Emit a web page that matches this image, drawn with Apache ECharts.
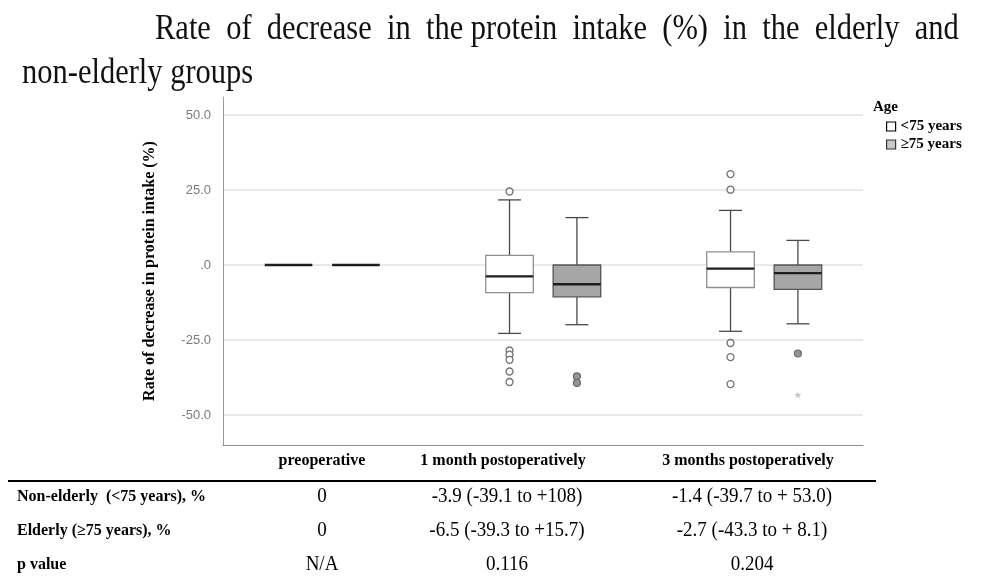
<!DOCTYPE html>
<html>
<head>
<meta charset="utf-8">
<script src="https://cdn.jsdelivr.net/npm/echarts@6/dist/echarts.min.js"></script>
<style>
    html, body { margin: 0; padding: 0; background: #fff; }
    #main { width: 982px; height: 578px; }
</style>
</head>
<body>
<div id="main"></div>
<script>
    // 时间点
    var timePoints = ['preoperative', '1 month postoperatively', '3 months postoperatively'];
    // 箱线: [下须, Q1, 中位数, Q3, 上须]
    var youngBoxes = [[0, 0, 0, 0, 0], [-22.8, -9.2, -3.8, 3.2, 21.7], [-22.1, -7.5, -1.2, 4.4, 18.2]];
    var elderBoxes = [[0, 0, 0, 0, 0], [-19.9, -10.6, -6.4, 0, 15.8], [-19.6, -8.1, -2.7, 0, 8.2]];
    // 离群点: [时间点序号, 值]
    var youngOutliers = [[1, 24.5], [1, -28.5], [1, -29.9], [1, -31.6], [1, -35.5], [1, -39.0],
        [2, 30.3], [2, 25.1], [2, -26.0], [2, -30.7], [2, -39.7]];
    var elderOutliers = [[1, -37.1], [1, -39.3], [2, -29.5]];
    var elderExtremes = [[2, -43.3]];
    var yTicks = [-50, -25, 0, 25, 50];

    // 下方表格
    var rowLabels = ['Non-elderly  (<75 years), %', 'Elderly (\u226575 years), %', 'p value'];
    var rowValues = [
        ['0', '-3.9 (-39.1 to +108)', '-1.4 (-39.7 to + 53.0)'],
        ['0', '-6.5 (-39.3 to +15.7)', '-2.7 (-43.3 to + 8.1)'],
        ['N/A', '0.116', '0.204']
    ];

    var SERIF = "'Liberation Serif', 'DejaVu Serif', serif";
    var SP = '\u2002';
    var BOX_W = 47.6, CAP_W = 23, OFFSET = 33.7;

    function boxRenderer(offset, fill, border) {
        return function (params, api) {
            var i = api.value(0);
            var lo = api.coord([i, api.value(1)]);
            var q1 = api.coord([i, api.value(2)]);
            var md = api.coord([i, api.value(3)]);
            var q3 = api.coord([i, api.value(4)]);
            var hi = api.coord([i, api.value(5)]);
            var cx = lo[0] + offset;
            var hw = BOX_W / 2, cw = CAP_W / 2;
            var kids = [];
            var wStyle = {stroke: '#4a4a4a', lineWidth: 1.3};
            if (hi[1] < q3[1] - 0.5) {
                kids.push({type: 'line', shape: {x1: cx, y1: q3[1], x2: cx, y2: hi[1]}, style: wStyle});
                kids.push({type: 'line', shape: {x1: cx - cw, y1: hi[1], x2: cx + cw, y2: hi[1]}, style: wStyle});
                kids.push({type: 'line', shape: {x1: cx, y1: q1[1], x2: cx, y2: lo[1]}, style: wStyle});
                kids.push({type: 'line', shape: {x1: cx - cw, y1: lo[1], x2: cx + cw, y2: lo[1]}, style: wStyle});
                kids.push({
                    type: 'rect',
                    shape: {x: cx - hw, y: q3[1], width: BOX_W, height: q1[1] - q3[1]},
                    style: {fill: fill, stroke: border, lineWidth: 1.3}
                });
            }
            kids.push({
                type: 'line',
                shape: {x1: cx - hw, y1: md[1], x2: cx + hw, y2: md[1]},
                style: {stroke: '#1e1e1e', lineWidth: 2.4}
            });
            return {type: 'group', children: kids};
        };
    }

    function toRows(boxes) {
        return boxes.map(function (b, i) { return [i].concat(b); });
    }

    var graphics = [
        {type: 'text', x: 155, y: 29, scaleY: 1.2, style: {
            text: ['Rate', 'of', 'decrease', 'in', 'the protein', 'intake', '(%)', 'in', 'the', 'elderly', 'and'].join(SP),
            font: '30.5px ' + SERIF, fill: '#111', verticalAlign: 'middle'}},
        {type: 'text', x: 22, y: 73, scaleY: 1.2, style: {text: 'non-elderly groups', font: '30.5px ' + SERIF, fill: '#111', verticalAlign: 'middle'}},
        {type: 'text', x: 873, y: 107, style: {text: 'Age', font: 'bold 15px ' + SERIF, fill: '#000', verticalAlign: 'middle'}},
        {type: 'line', shape: {x1: 8, y1: 481, x2: 876, y2: 481}, style: {stroke: '#000', lineWidth: 2}}
    ];
    var headCenters = [322, 503, 748];
    var colCenters = [322, 507, 752];
    var rowYs = [497, 531, 565];
    timePoints.forEach(function (t, i) {
        graphics.push({type: 'text', x: headCenters[i], y: 461,
            style: {text: t, font: 'bold 16px ' + SERIF, fill: '#000', align: 'center', verticalAlign: 'middle'}});
    });
    rowLabels.forEach(function (lab, r) {
        graphics.push({type: 'text', x: 17, y: rowYs[r],
            style: {text: lab, font: 'bold 16px ' + SERIF, fill: '#000', verticalAlign: 'middle'}});
        rowValues[r].forEach(function (v, c) {
            graphics.push({type: 'text', x: colCenters[c], y: rowYs[r], scaleY: 1.1,
                style: {text: v, font: '19px ' + SERIF, fill: '#000', align: 'center', verticalAlign: 'middle'}});
        });
    });

    var myChart = echarts.init(document.getElementById('main'));
    myChart.setOption({
        animation: false,
        grid: {left: 223, right: 119, top: 97, bottom: 133},
        legend: {
            orient: 'vertical',
            left: 881,
            top: 114,
            itemWidth: 9,
            itemHeight: 9,
            itemGap: 3,
            textStyle: {fontFamily: SERIF, fontWeight: 'bold', fontSize: 15, color: '#000'},
            data: [
                {name: '<75 years', icon: 'rect', itemStyle: {color: '#fff', borderColor: '#000', borderWidth: 1.2}},
                {name: '\u226575 years', icon: 'rect', itemStyle: {color: '#c8c8c8', borderColor: '#333', borderWidth: 1.2}}
            ]
        },
        xAxis: {
            type: 'value',
            min: -0.449,
            max: 2.447,
            axisLine: {show: true, onZero: false, lineStyle: {color: '#8c8c8c', width: 1}},
            axisTick: {show: false},
            axisLabel: {show: false},
            splitLine: {show: false}
        },
        yAxis: {
            type: 'value',
            min: -60,
            max: 56,
            name: 'Rate of decrease in protein intake (%)',
            nameLocation: 'middle',
            nameRotate: 90,
            nameGap: 65,
            nameTextStyle: {fontFamily: SERIF, fontWeight: 'bold', fontSize: 16, color: '#000'},
            axisLine: {show: true, onZero: false, lineStyle: {color: '#9a9a9a', width: 1}},
            axisTick: {show: false, customValues: yTicks},
            axisLabel: {
                customValues: yTicks,
                margin: 12,
                color: '#7a7a7a',
                fontFamily: "'Liberation Sans', Arial, sans-serif",
                fontSize: 13,
                formatter: function (v) { return v === 0 ? '.0' : v.toFixed(1); }
            },
            splitLine: {show: true, lineStyle: {color: '#e2e2e2', width: 1.5}}
        },
        graphic: graphics,
        series: [
            {
                name: '<75 years',
                type: 'custom',
                renderItem: boxRenderer(-OFFSET, '#ffffff', '#8f8f8f'),
                itemStyle: {color: '#fff'},
                data: toRows(youngBoxes),
                z: 3
            },
            {
                name: '\u226575 years',
                type: 'custom',
                renderItem: boxRenderer(OFFSET, '#a6a6a6', '#555555'),
                itemStyle: {color: '#c8c8c8'},
                data: toRows(elderBoxes),
                z: 3
            },
            {
                name: 'young outliers',
                type: 'scatter',
                symbol: 'circle',
                symbolSize: 7,
                symbolOffset: [-OFFSET, 0],
                itemStyle: {color: '#ffffff', borderColor: '#737373', borderWidth: 1.3, opacity: 1},
                data: youngOutliers,
                z: 4
            },
            {
                name: 'elder outliers',
                type: 'scatter',
                symbol: 'circle',
                symbolSize: 7,
                symbolOffset: [OFFSET, 0],
                itemStyle: {color: '#959595', borderColor: '#6a6a6a', borderWidth: 1.2, opacity: 1},
                data: elderOutliers,
                z: 4
            },
            {
                name: 'elder extremes',
                type: 'scatter',
                symbol: 'path://M0,-10 L2.35,-3.24 L9.51,-3.09 L3.8,1.24 L5.88,8.09 L0,4 L-5.88,8.09 L-3.8,1.24 L-9.51,-3.09 L-2.35,-3.24 Z',
                symbolSize: 7,
                symbolOffset: [OFFSET, 0],
                itemStyle: {color: '#c4c4c4', opacity: 1},
                data: elderExtremes,
                z: 4
            }
        ]
    });
</script>
</body>
</html>
